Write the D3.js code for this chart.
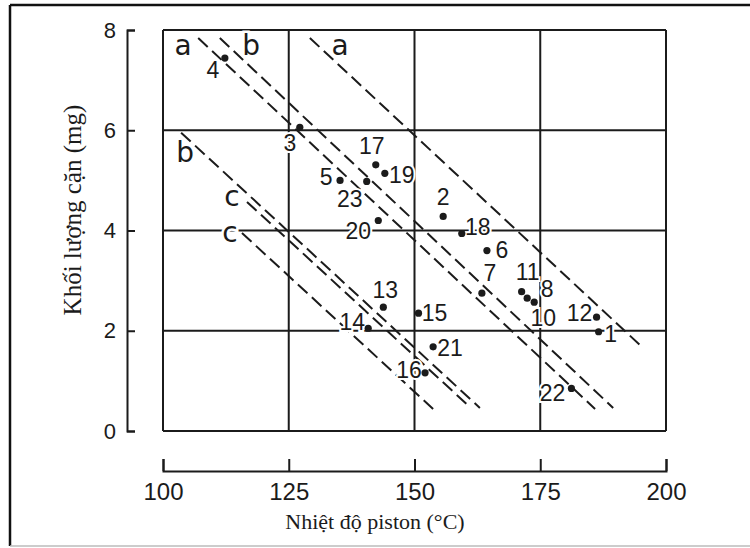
<!DOCTYPE html>
<html>
<head>
<meta charset="utf-8">
<script src="https://cdn.jsdelivr.net/npm/d3@7"></script>
<style>
  body { margin: 0; background: #fff; }
  svg { display: block; }
</style>
</head>
<body>
<svg id="chart" width="750" height="548"></svg>
<script>
// Piston temperature (°C) vs deposit mass (mg), numbered test points
const xTicks = [100, 125, 150, 175, 200];
const yTicks = [0, 2, 4, 6, 8];

const pointIds   = ["1", "2", "3", "4", "5", "6", "7", "8", "10", "11", "12",
                    "13", "14", "15", "16", "17", "18", "19", "20", "21", "22", "23"];
const pointTemp  = [186.6, 155.7, 127.2, 112.3, 135.2, 164.4, 163.4, 173.8, 172.4, 171.3, 186.2,
                    143.8, 140.8, 150.8, 152.1, 142.3, 159.4, 144.1, 142.8, 153.7, 181.2, 140.5];
const pointMass  = [1.98, 4.28, 6.06, 7.44, 5.00, 3.60, 2.75, 2.57, 2.65, 2.78, 2.27,
                    2.47, 2.05, 2.35, 1.16, 5.31, 3.94, 5.14, 4.20, 1.68, 0.85, 4.98];

// Band boundary lines (dashed), start and end in data units
const lineNames = ["a", "b", "a", "b", "c", "c"];
const lineT1 = [107.0, 111.3, 129.2, 103.6, 116.7, 115.7];
const lineM1 = [7.84, 7.84, 7.84, 5.95, 4.57, 3.95];
const lineT2 = [185.9, 189.5, 195.2, 163.0, 161.0, 153.7];
const lineM2 = [0.44, 0.46, 1.68, 0.46, 0.48, 0.44];

// Where the band letters sit, in data units
const letterT = [104.0, 117.5, 135.2, 104.4, 113.7, 113.3];
const letterM = [7.69, 7.69, 7.69, 5.55, 4.67, 3.97];

// Label offsets (px) relative to each point, keyed by point id
const labelOffset = {
  "1": [12, 2], "2": [0, -19], "3": [-10, 16], "4": [-12, 12], "5": [-14, -3],
  "6": [15, -1], "7": [8, -20], "8": [13, -13], "10": [16, 20], "11": [6, -20],
  "12": [-17, -4], "13": [2, -17], "14": [-16, -6], "15": [16, 0], "16": [-16, -3],
  "17": [-4, -19], "18": [16, -7], "19": [17, 2], "20": [-20, 11], "21": [17, 1],
  "22": [-19, 5], "23": [-17, 18]
};

const svg = d3.select("#chart");

const x = d3.scaleLinear().domain([100, 200]).range([163, 666]);
const y = d3.scaleLinear().domain([0, 8]).range([431, 30]);

const ink = "#1b1b1b";

// Outer frame of the figure
svg.append("line").attr("x1", 10).attr("x2", 750).attr("y1", 5).attr("y2", 5)
  .attr("stroke", "#111").attr("stroke-width", 2.5);
svg.append("line").attr("x1", 10).attr("x2", 10).attr("y1", 5).attr("y2", 546)
  .attr("stroke", "#111").attr("stroke-width", 2.5);
svg.append("line").attr("x1", 10).attr("x2", 750).attr("y1", 546).attr("y2", 546)
  .attr("stroke", "#bbb").attr("stroke-width", 1.5);

// Grid box
const grid = svg.append("g");
grid.selectAll("line.v").data(xTicks).join("line")
  .attr("x1", d => x(d)).attr("x2", d => x(d))
  .attr("y1", y(8)).attr("y2", y(0))
  .attr("stroke", ink).attr("stroke-width", 2);
grid.selectAll("line.h").data(yTicks).join("line")
  .attr("class", "h")
  .attr("x1", x(100)).attr("x2", x(200))
  .attr("y1", d => y(d)).attr("y2", d => y(d))
  .attr("stroke", ink).attr("stroke-width", 2);

// Dashed band lines
const lineIdx = d3.range(lineNames.length);
svg.append("g").selectAll("line").data(lineIdx).join("line")
  .attr("x1", i => x(lineT1[i])).attr("y1", i => y(lineM1[i]))
  .attr("x2", i => x(lineT2[i])).attr("y2", i => y(lineM2[i]))
  .attr("stroke", ink).attr("stroke-width", 2)
  .attr("stroke-dasharray", "13,6");

// Band letters
svg.append("g").selectAll("text").data(lineIdx).join("text")
  .attr("x", i => x(letterT[i])).attr("y", i => y(letterM[i]))
  .attr("text-anchor", "middle").attr("dominant-baseline", "central")
  .attr("font-family", "DejaVu Sans, sans-serif").attr("font-size", 28)
  .attr("fill", ink)
  .attr("stroke", "#fff").attr("stroke-width", 5).attr("paint-order", "stroke")
  .text(i => lineNames[i]);

// Points and their numbers
const ptIdx = d3.range(pointIds.length);
const pts = svg.append("g");
pts.selectAll("text").data(ptIdx).join("text")
  .attr("x", i => x(pointTemp[i]) + labelOffset[pointIds[i]][0])
  .attr("y", i => y(pointMass[i]) + labelOffset[pointIds[i]][1])
  .attr("text-anchor", "middle").attr("dominant-baseline", "central")
  .attr("font-family", "Liberation Sans Narrow, Liberation Sans, sans-serif")
  .attr("font-size", 23).attr("fill", ink)
  .attr("stroke", "#fff").attr("stroke-width", 4).attr("paint-order", "stroke")
  .text(i => pointIds[i]);
pts.selectAll("circle").data(ptIdx).join("circle")
  .attr("cx", i => x(pointTemp[i])).attr("cy", i => y(pointMass[i]))
  .attr("r", 3.6).attr("fill", ink);

// Detached y axis (bracket with inward ticks)
const yAxisG = svg.append("g").attr("transform", "translate(127,0)")
  .call(d3.axisLeft(y).tickValues(yTicks).tickSize(-8).tickSizeOuter(-8).tickPadding(11)
    .tickFormat(d3.format("d")));
yAxisG.selectAll("path, line").attr("stroke", ink).attr("stroke-width", 2);
yAxisG.selectAll("text").attr("font-family", "Liberation Sans, sans-serif")
  .attr("font-size", 22).attr("fill", ink);

// Detached x axis
const xAxisG = svg.append("g").attr("transform", "translate(0,471)")
  .call(d3.axisBottom(x).tickValues(xTicks).tickSize(-12).tickSizeOuter(-12).tickPadding(12)
    .tickFormat(d3.format("d")));
xAxisG.selectAll("path, line").attr("stroke", ink).attr("stroke-width", 2);
xAxisG.selectAll("text").attr("font-family", "Liberation Sans, sans-serif")
  .attr("font-size", 24).attr("fill", ink);

// Axis titles
svg.append("text")
  .attr("x", 375).attr("y", 521)
  .attr("text-anchor", "middle").attr("dominant-baseline", "central")
  .attr("font-family", "Liberation Serif, serif").attr("font-size", 22)
  .attr("fill", ink)
  .text("Nhiệt độ piston (°C)");

svg.append("text")
  .attr("transform", "translate(72,210) rotate(-90)")
  .attr("text-anchor", "middle").attr("dominant-baseline", "central")
  .attr("font-family", "Liberation Serif, serif").attr("font-size", 25)
  .attr("fill", ink)
  .text("Khối lượng cặn (mg)");
</script>
</body>
</html>
